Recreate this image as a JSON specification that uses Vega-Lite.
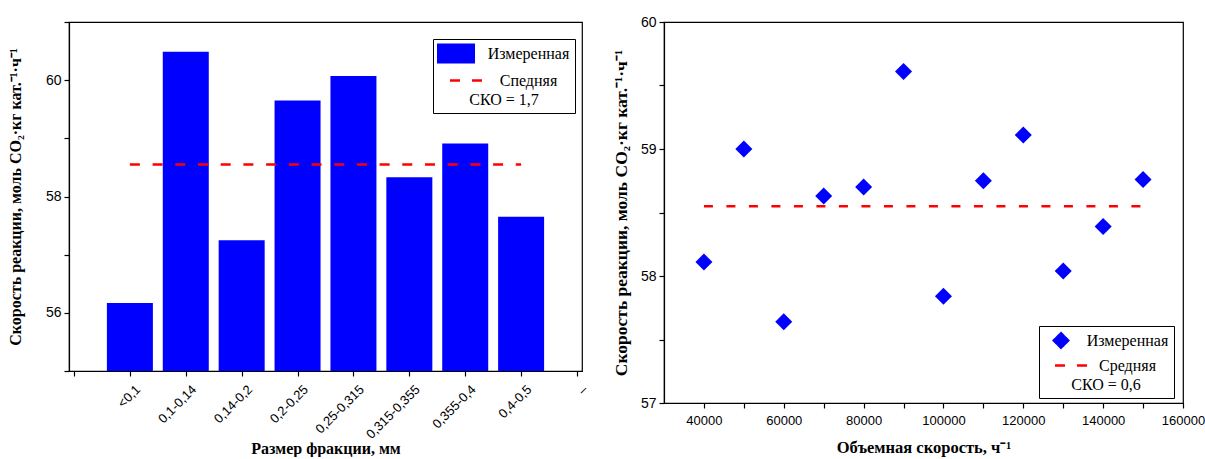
{
  "$schema": "https://vega.github.io/schema/vega-lite/v6.json",
  "background": "white",
  "padding": {"left": 6, "top": 14, "right": 0, "bottom": 0},
  "spacing": 20,
  "config": {
    "view": {"stroke": "black", "strokeWidth": 1.2},
    "axis": {
      "grid": false,
      "domainColor": "black", "domainWidth": 1.2,
      "tickColor": "black", "tickWidth": 1.2, "tickSize": 5,
      "labelColor": "black", "labelFont": "Liberation Sans", "labelFontSize": 14,
      "labelFlush": false, "labelOverlap": false, "labelPadding": 3,
      "titleColor": "black", "titleFont": "Liberation Serif", "titleFontWeight": "bold", "titleFontSize": 16
    },
    "legend": {
      "orient": "none",
      "strokeColor": "black", "fillColor": "white", "padding": 5,
      "labelFont": "Liberation Serif", "labelFontSize": 16, "labelColor": "black", "labelAlign": "center",
      "titleFont": "Liberation Serif", "titleFontSize": 16, "titleFontWeight": "normal", "titleColor": "black",
      "titleOrient": "bottom", "titleAnchor": "middle", "titlePadding": 3, "rowPadding": 3,
      "symbolOpacity": 1
    }
  },
  "datasets": {
    "fractions": [
      {"pos": 1, "frac": "<0,1", "rate": 56.17, "series": "Измеренная"},
      {"pos": 2, "frac": "0,1-0,14", "rate": 60.49, "series": "Измеренная"},
      {"pos": 3, "frac": "0,14-0,2", "rate": 57.25, "series": "Измеренная"},
      {"pos": 4, "frac": "0,2-0,25", "rate": 59.65, "series": "Измеренная"},
      {"pos": 5, "frac": "0,25-0,315", "rate": 60.07, "series": "Измеренная"},
      {"pos": 6, "frac": "0,315-0,355", "rate": 58.33, "series": "Измеренная"},
      {"pos": 7, "frac": "0,355-0,4", "rate": 58.91, "series": "Измеренная"},
      {"pos": 8, "frac": "0,4-0,5", "rate": 57.65, "series": "Измеренная"}
    ],
    "fracMean": [{"x1": 1, "x2": 8, "mean": 58.55, "series": "Спедняя"}],
    "velocity": [
      {"vel": 40000, "rate": 58.11, "series": "Измеренная"},
      {"vel": 50000, "rate": 59.0, "series": "Измеренная"},
      {"vel": 60000, "rate": 57.64, "series": "Измеренная"},
      {"vel": 70000, "rate": 58.63, "series": "Измеренная"},
      {"vel": 80000, "rate": 58.7, "series": "Измеренная"},
      {"vel": 90000, "rate": 59.61, "series": "Измеренная"},
      {"vel": 100000, "rate": 57.84, "series": "Измеренная"},
      {"vel": 110000, "rate": 58.75, "series": "Измеренная"},
      {"vel": 120000, "rate": 59.11, "series": "Измеренная"},
      {"vel": 130000, "rate": 58.04, "series": "Измеренная"},
      {"vel": 140000, "rate": 58.39, "series": "Измеренная"},
      {"vel": 150000, "rate": 58.76, "series": "Измеренная"}
    ],
    "velMean": [{"x1": 40000, "x2": 150000, "mean": 58.55, "series": "Средняя"}]
  },
  "resolve": {"scale": {"color": "independent"}, "legend": {"color": "independent"}},
  "hconcat": [
    {
      "width": 513,
      "height": 349,
      "layer": [
        {
          "data": {"name": "fractions"},
          "mark": {"type": "bar", "width": 46},
          "encoding": {
            "x": {
              "field": "pos", "type": "quantitative",
              "scale": {"domain": [0, 9], "nice": false, "zero": false},
              "axis": {
                "values": [0, 1, 2, 3, 4, 5, 6, 7, 8, 9],
                "labelExpr": "['', '<0,1', '0,1-0,14', '0,14-0,2', '0,2-0,25', '0,25-0,315', '0,315-0,355', '0,355-0,4', '0,4-0,5', '–'][datum.value]",
                "labelAngle": -45, "labelAlign": "right", "labelBaseline": "middle",
                "labelFontSize": 13, "labelPadding": 11, "labelOffset": 8,
                "title": "Размер фракции, мм", "titleY": 69, "titleBaseline": "top"
              }
            },
            "y": {
              "field": "rate", "type": "quantitative",
              "scale": {"domain": [55, 61], "nice": false, "zero": false},
              "axis": {
                "values": [55, 56, 57, 58, 59, 60, 61],
                "labelExpr": "(datum.value % 2 === 0 && datum.value >= 56 && datum.value <= 60) ? format(datum.value, 'd') : ''",
                "title": "Скорость реакции, моль CO₂·кг кат.⁻¹·ч⁻¹", "titlePadding": 22
              }
            },
            "y2": {"datum": 55},
            "color": {
              "field": "series", "type": "nominal",
              "scale": {"domain": ["Измеренная", "Спедняя"], "range": ["#0000FF", "#FF0000"]},
              "legend": {
                "legendX": 364, "legendY": 17,
                "title": "СКО = 1,7",
                "symbolSize": 256,
                "symbolOffset": 8.5,
                "labelOffset": 63,
                "encode": {
                  "symbols": {
                    "update": {
                      "shape": {"signal": "datum.value === 'Спедняя' ? 'M-0.75,0H3.25' : 'M-2.22,-1.1H2.22V1.1H-2.22Z'"},
                      "size": {"value": 256},
                      "fill": {"signal": "datum.value === 'Спедняя' ? 'transparent' : '#0000FF'"},
                      "stroke": {"signal": "datum.value === 'Спедняя' ? '#FF0000' : '#0000FF'"},
                      "strokeDash": {"signal": "datum.value === 'Спедняя' ? [10, 12] : [1, 0]"},
                      "strokeWidth": {"value": 2.5},
                      "opacity": {"value": 1}
                    }
                  }
                }
              }
            }
          }
        },
        {
          "data": {"name": "fracMean"},
          "mark": {"type": "rule", "strokeDash": [10, 12.7], "strokeWidth": 2.5},
          "encoding": {
            "x": {"field": "x1", "type": "quantitative"},
            "x2": {"field": "x2"},
            "y": {"field": "mean", "type": "quantitative"},
            "color": {"field": "series", "type": "nominal"}
          }
        }
      ]
    },
    {
      "width": 519,
      "height": 381,
      "layer": [
        {
          "data": {"name": "velocity"},
          "mark": {"type": "point", "shape": "diamond", "filled": true, "size": 290},
          "encoding": {
            "x": {
              "field": "vel", "type": "quantitative",
              "scale": {"domain": [30000, 160000], "nice": false, "zero": false},
              "axis": {
                "values": [40000, 50000, 60000, 70000, 80000, 90000, 100000, 110000, 120000, 130000, 140000, 150000, 160000],
                "labelExpr": "datum.value % 20000 === 0 ? format(datum.value, 'd') : ''",
                "labelFontSize": 13, "labelPadding": 6,
                "title": "Объемная скорость, ч⁻¹", "titleFontSize": 16.5, "titlePadding": 12
              }
            },
            "y": {
              "field": "rate", "type": "quantitative",
              "scale": {"domain": [57, 60], "nice": false, "zero": false},
              "axis": {
                "values": [57, 57.5, 58, 58.5, 59, 59.5, 60],
                "labelExpr": "datum.value % 1 === 0 ? format(datum.value, 'd') : ''",
                "title": "Скорость реакции, моль CO₂·кг кат.⁻¹·ч⁻¹", "titleFontSize": 17.5, "titlePadding": 10
              }
            },
            "opacity": {"value": 1},
            "color": {
              "field": "series", "type": "nominal",
              "scale": {"domain": ["Измеренная", "Средняя"], "range": ["#0000FF", "#FF0000"]},
              "legend": {
                "legendX": 375, "legendY": 304,
                "title": "СКО = 0,6",
                "symbolSize": 256,
                "symbolOffset": 7.5,
                "labelOffset": 57,
                "encode": {
                  "symbols": {
                    "update": {
                      "shape": {"signal": "datum.value === 'Средняя' ? 'M-0.75,0H3.375' : 'M0,-0.9L0.9,0L0,0.9L-0.9,0Z'"},
                      "size": {"value": 256},
                      "fill": {"signal": "datum.value === 'Средняя' ? 'transparent' : '#0000FF'"},
                      "stroke": {"signal": "datum.value === 'Средняя' ? '#FF0000' : '#0000FF'"},
                      "strokeDash": {"signal": "datum.value === 'Средняя' ? [10, 12] : [1, 0]"},
                      "strokeWidth": {"value": 2.5},
                      "opacity": {"value": 1}
                    }
                  }
                }
              }
            }
          }
        },
        {
          "data": {"name": "velMean"},
          "mark": {"type": "rule", "strokeDash": [9, 13.5], "strokeWidth": 2.5},
          "encoding": {
            "x": {"field": "x1", "type": "quantitative"},
            "x2": {"field": "x2"},
            "y": {"field": "mean", "type": "quantitative"},
            "color": {"field": "series", "type": "nominal"}
          }
        }
      ]
    }
  ]
}
